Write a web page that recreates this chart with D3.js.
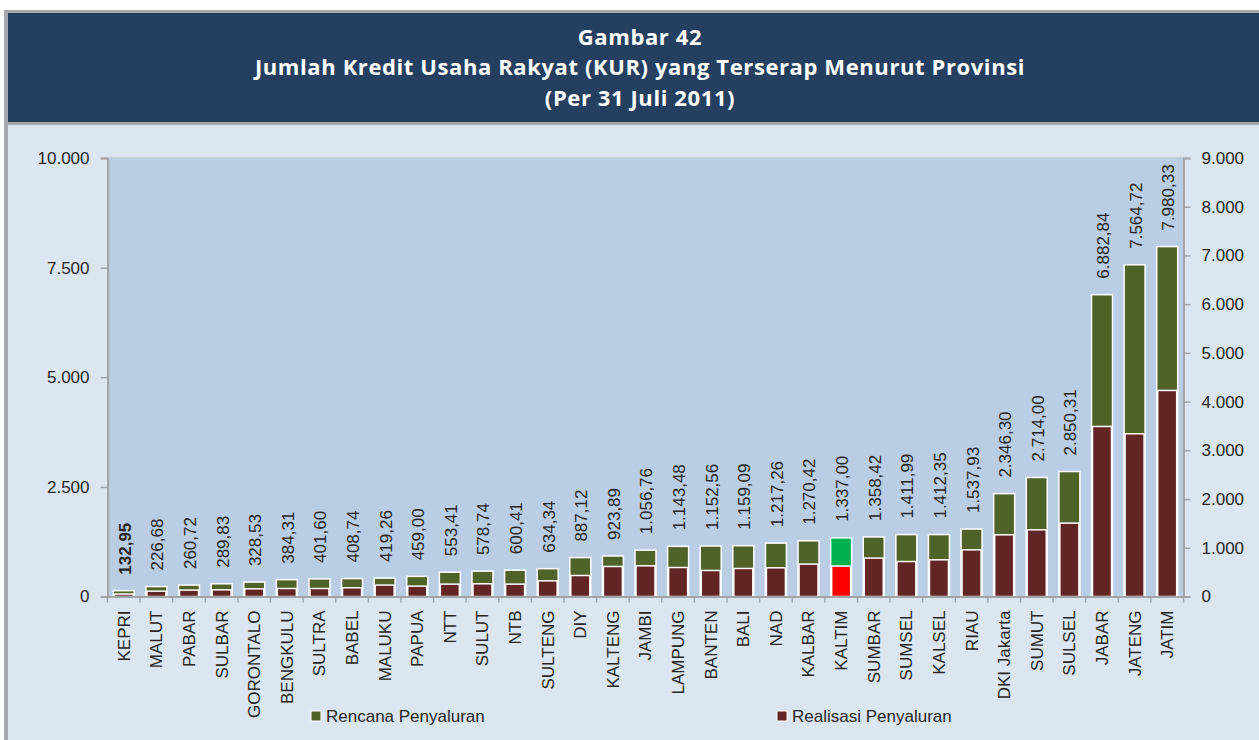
<!DOCTYPE html>
<html>
<head>
<meta charset="utf-8">
<script src="https://cdn.jsdelivr.net/npm/d3@7/dist/d3.min.js"></script>
<style>
  html, body { margin: 0; padding: 0; background: #ffffff; }
  svg { display: block; }
</style>
</head>
<body>
<svg id="chart" width="1259" height="740"></svg>
<script>
// Provinces, ordered by planned KUR disbursement (Rp miliar)
const provinsi = ["KEPRI", "MALUT", "PABAR", "SULBAR", "GORONTALO", "BENGKULU", "SULTRA", "BABEL",
  "MALUKU", "PAPUA", "NTT", "SULUT", "NTB", "SULTENG", "DIY", "KALTENG", "JAMBI", "LAMPUNG",
  "BANTEN", "BALI", "NAD", "KALBAR", "KALTIM", "SUMBAR", "SUMSEL", "KALSEL", "RIAU",
  "DKI Jakarta", "SUMUT", "SULSEL", "JABAR", "JATENG", "JATIM"];

// Rencana Penyaluran (left axis)
const rencana = [132.95, 226.68, 260.72, 289.83, 328.53, 384.31, 401.60, 408.74, 419.26, 459.00,
  553.41, 578.74, 600.41, 634.34, 887.12, 923.89, 1056.76, 1143.48, 1152.56, 1159.09, 1217.26,
  1270.42, 1337.00, 1358.42, 1411.99, 1412.35, 1537.93, 2346.30, 2714.00, 2850.31, 6882.84,
  7564.72, 7980.33];

// Realisasi Penyaluran (right axis)
const realisasi = [50, 110, 131, 137, 158, 164, 164, 179, 234, 213, 254, 261, 254, 322, 431, 616,
  630, 595, 534, 575, 589, 665, 625, 788, 718, 753, 958, 1266, 1369, 1506, 3490, 3340, 4229];

const ticksKiri = [0, 2500, 5000, 7500, 10000];
const ticksKanan = [0, 1000, 2000, 3000, 4000, 5000, 6000, 7000, 8000, 9000];

const provinsiSorot = ["KALTIM"];
const labelTebal = ["KEPRI"];

const judul = ["Gambar 42",
  "Jumlah Kredit Usaha Rakyat (KUR) yang Terserap Menurut Provinsi",
  "(Per 31 Juli 2011)"];
const legenda = [
  { nama: "Rencana Penyaluran", warna: "#4f6228" },
  { nama: "Realisasi Penyaluran", warna: "#632523" }
];

const id = d3.formatLocale({ decimal: ",", thousands: ".", grouping: [3], currency: ["", ""] });
const fmtSumbu = id.format(",.0f");
const fmtNilai = id.format(",.2f");

const svg = d3.select("#chart");
const FONT = "'Liberation Sans', Arial, sans-serif";

// Frame and header band
svg.append("rect").attr("x", 4).attr("y", 10).attr("width", 1255).attr("height", 730).attr("fill", "#a6a8ab");
svg.append("rect").attr("x", 8).attr("y", 13).attr("width", 1251).attr("height", 109).attr("fill", "#243f60");
svg.append("rect").attr("x", 8).attr("y", 125).attr("width", 1251).attr("height", 615).attr("fill", "#dce6f1");

svg.append("g").selectAll("text").data(judul).join("text")
  .attr("x", 640).attr("y", (d, i) => [45, 75, 106][i])
  .attr("text-anchor", "middle")
  .attr("fill", "#ffffff")
  .attr("font-family", "'Open Sans', sans-serif")
  .attr("font-weight", "bold")
  .attr("font-size", 22)
  .attr("letter-spacing", 0.6)
  .text(d => d);

// Plot area
const plot = { left: 107.5, right: 1183.5, top: 158, bottom: 596.5 };

const x = d3.scaleBand().domain(provinsi).range([plot.left, plot.right]).padding(0);
const yKiri = d3.scaleLinear().domain([0, 10000]).range([plot.bottom, plot.top]);
const yKanan = d3.scaleLinear().domain([0, 9000]).range([plot.bottom, plot.top]);

svg.append("rect")
  .attr("x", plot.left).attr("y", plot.top)
  .attr("width", plot.right - plot.left).attr("height", plot.bottom - plot.top)
  .attr("fill", "#b9cde5");
svg.append("line")
  .attr("x1", plot.left).attr("x2", plot.right)
  .attr("y1", plot.top).attr("y2", plot.top)
  .attr("stroke", "#c3c9d1").attr("stroke-width", 1.5);

// Bars: planned (wide) with realised overlaid
const lebarHijau = 21, lebarMerah = 19;
const data = provinsi.map((p, i) => ({ p, rencana: rencana[i], realisasi: realisasi[i], sorot: provinsiSorot.includes(p) }));

svg.append("g").selectAll("rect").data(data).join("rect")
  .attr("x", d => x(d.p) + x.bandwidth() / 2 - lebarHijau / 2)
  .attr("y", d => yKiri(d.rencana))
  .attr("width", lebarHijau)
  .attr("height", d => yKiri(0) - yKiri(d.rencana))
  .attr("fill", d => d.sorot ? "#00b050" : "#4f6228")
  .attr("stroke", "#ffffff").attr("stroke-width", 1.5);

svg.append("g").selectAll("rect").data(data).join("rect")
  .attr("x", d => x(d.p) + x.bandwidth() / 2 - lebarMerah / 2)
  .attr("y", d => yKanan(d.realisasi))
  .attr("width", lebarMerah)
  .attr("height", d => yKanan(0) - yKanan(d.realisasi))
  .attr("fill", d => d.sorot ? "#ff0000" : "#632523")
  .attr("stroke", "#ffffff").attr("stroke-width", 1.5);

// Value labels above planned bars
svg.append("g").selectAll("text").data(data).join("text")
  .attr("transform", d => `translate(${x(d.p) + x.bandwidth() / 2 + 1},${yKiri(d.rencana) - 16}) rotate(-90)`)
  .attr("dy", "0.35em")
  .attr("text-anchor", "start")
  .attr("font-family", FONT)
  .attr("font-size", 17)
  .attr("font-weight", d => labelTebal.includes(d.p) ? "bold" : "normal")
  .attr("fill", "#262626")
  .text(d => fmtNilai(d.rencana));

// Axes
function gayaSumbu(g) {
  g.selectAll(".domain").attr("stroke", "#a0a4a8").attr("stroke-width", 2);
  g.selectAll(".tick line").attr("stroke", "#a0a4a8").attr("stroke-width", 1.5);
  g.selectAll(".tick text").attr("fill", "#262626").attr("font-family", FONT).attr("font-size", 17);
}

const sumbuKiri = svg.append("g").attr("transform", `translate(${plot.left},0)`)
  .call(d3.axisLeft(yKiri).tickValues(ticksKiri).tickFormat(fmtSumbu).tickSizeOuter(0).tickSize(7).tickPadding(11));
gayaSumbu(sumbuKiri);

const sumbuKanan = svg.append("g").attr("transform", `translate(${plot.right},0)`)
  .call(d3.axisRight(yKanan).tickValues(ticksKanan).tickFormat(fmtSumbu).tickSizeOuter(0).tickSize(7).tickPadding(11));
gayaSumbu(sumbuKanan);

const sumbuBawah = svg.append("g").attr("transform", `translate(0,${plot.bottom})`)
  .call(d3.axisBottom(x).tickSize(0).tickSizeOuter(0));
gayaSumbu(sumbuBawah);
sumbuBawah.selectAll(".tick text")
  .attr("transform", "rotate(-90)")
  .attr("text-anchor", "end")
  .attr("x", -14).attr("y", 0).attr("dy", "0.35em");

// Category boundary ticks
const batas = provinsi.map(p => x(p)).concat([plot.right]);
svg.append("g").selectAll("line").data(batas).join("line")
  .attr("x1", d => d).attr("x2", d => d)
  .attr("y1", plot.bottom).attr("y2", plot.bottom + 6)
  .attr("stroke", "#a0a4a8").attr("stroke-width", 1.5);

// Legend
const posLegenda = [311, 777];
const gl = svg.append("g").selectAll("g").data(legenda).join("g")
  .attr("transform", (d, i) => `translate(${posLegenda[i]},711)`);
gl.append("rect").attr("width", 10).attr("height", 10)
  .attr("fill", d => d.warna).attr("stroke", "#ffffff").attr("stroke-width", 1);
gl.append("text").attr("x", 15).attr("y", 5).attr("dy", "0.35em")
  .attr("font-family", FONT).attr("font-size", 17).attr("fill", "#262626")
  .text(d => d.nama);
</script>
</body>
</html>
